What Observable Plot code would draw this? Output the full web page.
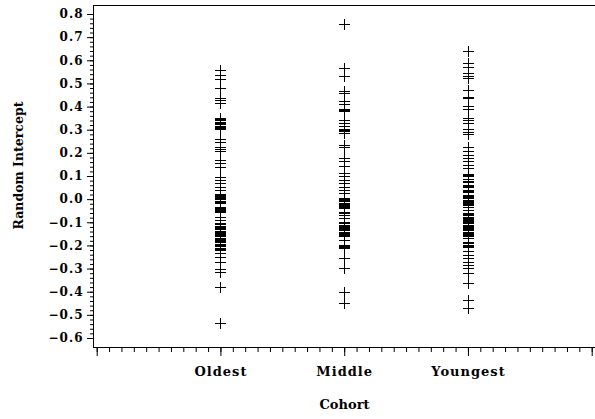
<!DOCTYPE html>
<html>
<head>
<meta charset="utf-8">
<script src="https://cdn.jsdelivr.net/npm/d3@7"></script>
<script src="https://cdn.jsdelivr.net/npm/@observablehq/plot@0.6"></script>
<style>
  html, body { margin: 0; padding: 0; background: #fff; overflow: hidden; }
  svg g[aria-label$="tick label"] text { letter-spacing: 1px; }
</style>
</head>
<body>
<div id="chart"></div>
<script>
// Cohort categories and their positions on the horizontal axis
const cohorts = ["Oldest", "Middle", "Youngest"];
const cohortPositions = [1, 2, 3];

// Estimated random intercepts per subject, by cohort
const oldest = [
  0.558, 0.535, 0.520, 0.482, 0.438, 0.428, 0.415,
  0.352, 0.346, 0.340, 0.335, 0.329, 0.324, 0.318, 0.313, 0.307, 0.302,
  0.260, 0.246, 0.226, 0.215, 0.206, 0.170, 0.157, 0.140,
  0.096, 0.081, 0.070, 0.053, 0.040,
  0.024, 0.019, 0.014, 0.009, 0.004, -0.001, -0.006, -0.011, -0.016,
  -0.032, -0.037, -0.042, -0.047, -0.052, -0.057,
  -0.075, -0.089,
  -0.104, -0.109, -0.114, -0.119, -0.124, -0.131, -0.136, -0.141, -0.146,
  -0.151, -0.156, -0.161, -0.166, -0.171, -0.176, -0.182, -0.187, -0.192,
  -0.199, -0.204, -0.209, -0.214, -0.219,
  -0.233, -0.248, -0.270, -0.302, -0.313, -0.380, -0.535
];
const middle = [
  0.755, 0.566, 0.530, 0.469, 0.458, 0.422, 0.412, 0.390, 0.384, 0.379,
  0.343, 0.328, 0.314, 0.305, 0.299, 0.293, 0.287, 0.235, 0.225,
  0.177, 0.163, 0.144, 0.112, 0.098, 0.083, 0.069, 0.054, 0.040, 0.026,
  0.005, 0.000, -0.005, -0.010, -0.015, -0.020, -0.025, -0.030, -0.035, -0.039,
  -0.054, -0.059, -0.068, -0.082,
  -0.100, -0.105, -0.110, -0.115, -0.120, -0.125, -0.130, -0.135, -0.140,
  -0.145, -0.150, -0.155, -0.160,
  -0.176, -0.197, -0.202, -0.207, -0.213, -0.255, -0.298, -0.400, -0.449
];
const youngest = [
  0.638, 0.588, 0.573, 0.545, 0.533, 0.523, 0.472, 0.443, 0.436, 0.403, 0.389,
  0.350, 0.340, 0.328, 0.302, 0.292, 0.282, 0.227, 0.210,
  0.191, 0.177, 0.163, 0.148, 0.134,
  0.109, 0.103, 0.098, 0.086, 0.080, 0.075, 0.063, 0.057, 0.052, 0.040, 0.034, 0.029,
  0.018, 0.013, 0.008, 0.003, -0.002, -0.007, -0.012, -0.017, -0.022, -0.027, -0.033,
  -0.046,
  -0.060, -0.065, -0.070, -0.075, -0.080, -0.085, -0.090, -0.095, -0.100, -0.105,
  -0.110, -0.115, -0.120, -0.125, -0.130, -0.135, -0.140, -0.145, -0.150, -0.155,
  -0.160, -0.166,
  -0.185, -0.190, -0.196, -0.201, -0.206, -0.226, -0.241, -0.255, -0.270, -0.284,
  -0.298, -0.320, -0.363, -0.435, -0.470
];

// Axis ticks
const yMajorTicks = [-0.6, -0.5, -0.4, -0.3, -0.2, -0.1, 0.0, 0.1, 0.2, 0.3, 0.4, 0.5, 0.6, 0.7, 0.8];
const xMajorTicks = [0, 1, 2, 3, 4];
const xLabels = {1: "Oldest", 2: "Middle", 3: "Youngest"};

// Minor ticks: five per tenth on y, ten per category step on x
const yMinorTicks = d3.range(-30, 41).map(i => i / 50);
const xMinorTicks = d3.range(0, 41).map(i => i / 10);

const rows = [oldest, middle, youngest].flatMap((values, k) =>
  values.map(v => ({cohort: cohorts[k], pos: cohortPositions[k], value: v}))
);

// Thin stroked "+" marker
const plusSymbol = {
  draw(context, size) {
    const h = Math.sqrt(size / Math.PI);
    context.moveTo(-h, 0); context.lineTo(h, 0);
    context.moveTo(0, -h); context.lineTo(0, h);
  }
};

const font = "'DejaVu Serif', serif";
const blank = () => "";

const chart = Plot.plot({
  width: 595,
  height: 419,
  marginLeft: 93,
  marginRight: 0,
  marginTop: 5,
  marginBottom: 72,
  x: {domain: [0, 4], insetLeft: 3.7, insetRight: 3.3, axis: null},
  y: {domain: [-0.6, 0.8], insetTop: 9, insetBottom: 9, axis: null},
  style: {fontFamily: font, fontWeight: "bold", fontSize: "11px", color: "#000", background: "#fff"},
  marks: [
    Plot.frame({anchor: "top", stroke: "#000"}),
    Plot.frame({anchor: "left", stroke: "#000"}),
    Plot.frame({anchor: "bottom", stroke: "#000"}),
    Plot.axisY({ticks: yMinorTicks, anchor: "left", tickSize: 3, tickFormat: blank,
      label: null, stroke: "#000"}),
    Plot.axisY({ticks: yMajorTicks, anchor: "left", tickSize: 6, tickPadding: 4,
      tickFormat: d3.format(".1f"), label: null, stroke: "#000", fontSize: 12}),
    Plot.axisX({ticks: xMinorTicks, anchor: "bottom", tickSize: 5, tickFormat: blank,
      label: null, stroke: "#000"}),
    Plot.axisX({ticks: xMajorTicks, anchor: "bottom", tickSize: 9, tickPadding: 10,
      tickFormat: d => xLabels[d] ?? "", label: null, stroke: "#000", fontSize: 13}),
    Plot.dot(rows, {x: "pos", y: "value", symbol: plusSymbol, r: 5.5,
      stroke: "#000", fill: "none", strokeWidth: 1, shapeRendering: "crispEdges"}),
    Plot.text(["Cohort"], {frameAnchor: "bottom", text: d => d, dy: 61,
      fontSize: 13, fontWeight: "bold"}),
    Plot.text(["Random Intercept"], {frameAnchor: "left", text: d => d, rotate: -90,
      textAnchor: "middle", dx: -75, dy: -11, fontSize: 12.5, fontWeight: "bold"})
  ]
});

document.getElementById("chart").append(chart);
</script>
</body>
</html>
